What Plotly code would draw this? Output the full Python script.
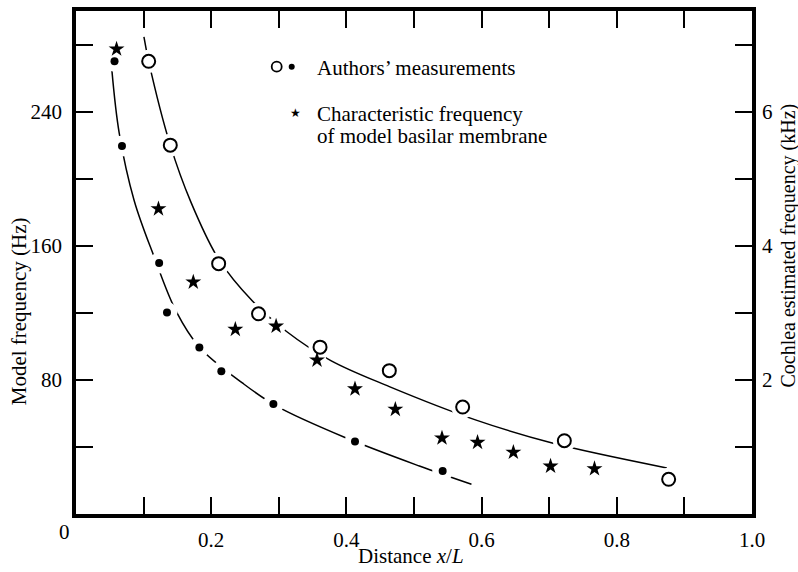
import plotly.graph_objects as go

# ---- data ----
open_x = [0.1075, 0.1395, 0.211, 0.270, 0.361, 0.4635, 0.572, 0.7224, 0.8767]
open_y = [270, 220, 149.3, 119.4, 99.5, 85.5, 63.8, 43.7, 20.7]

dot_x = [0.057, 0.068, 0.123, 0.1346, 0.1825, 0.215, 0.292, 0.4127, 0.5424]
dot_y = [270, 219.5, 149.7, 120.2, 99.3, 85.1, 65.6, 43.3, 25.6]

star_x = [0.060, 0.122, 0.1735, 0.2357, 0.296, 0.3565, 0.4127, 0.4724, 0.5414, 0.594, 0.647, 0.702, 0.767]
star_y = [277.3, 182, 138.3, 110.1, 112, 91.8, 74.6, 62.4, 45.3, 42.7, 36.8, 28.5, 27]

upper_x = [0.1005, 0.1075, 0.1395, 0.170, 0.211, 0.261, 0.311, 0.377, 0.4635, 0.592, 0.703, 0.874]
upper_y = [284.5, 270, 220, 186, 152, 127, 109, 91.5, 76, 56, 42.5, 27.5]

lower_x = [0.053, 0.064, 0.086, 0.115, 0.148, 0.1825, 0.2466, 0.296, 0.40, 0.508, 0.585]
lower_y = [265, 227, 187, 154, 121, 99.5, 78, 64.5, 45.3, 28.6, 17.7]

x_tickvals = [0.2, 0.4, 0.6, 0.8, 1.0]
x_ticktext = ["0.2", "0.4", "0.6", "0.8", "1.0"]
x_minor = [0.1, 0.3, 0.5, 0.7, 0.9]
y_tickvals = [80, 160, 240]
y_minor = [40, 120, 200, 280]
y2_tickvals = [2, 4, 6]
y2_minor = [1, 3, 5, 7]

FONT = "Liberation Serif"
fs = 21

fig = go.Figure()

# curves
for cx, cy in [(upper_x, upper_y), (lower_x, lower_y)]:
    fig.add_trace(go.Scatter(x=cx, y=cy, mode="lines",
                             line=dict(color="black", width=1.5, shape="spline", smoothing=1.0),
                             hoverinfo="skip", showlegend=False))

# white halos (gaps in the curves around markers)
fig.add_trace(go.Scatter(x=open_x, y=open_y, mode="markers",
                         marker=dict(color="white", size=23), showlegend=False, hoverinfo="skip"))
fig.add_trace(go.Scatter(x=dot_x, y=dot_y, mode="markers",
                         marker=dict(color="white", size=21), showlegend=False, hoverinfo="skip"))
fig.add_trace(go.Scatter(x=star_x, y=star_y, mode="markers",
                         marker=dict(color="white", size=19), showlegend=False, hoverinfo="skip"))

# markers
fig.add_trace(go.Scatter(x=open_x, y=open_y, mode="markers",
                         marker=dict(symbol="circle", color="white", size=13,
                                     line=dict(color="black", width=2)), showlegend=False))
fig.add_trace(go.Scatter(x=dot_x, y=dot_y, mode="markers",
                         marker=dict(symbol="circle", color="black", size=8,
                                     line=dict(width=0)), showlegend=False))
fig.add_trace(go.Scatter(x=star_x, y=star_y, mode="markers",
                         marker=dict(symbol="star", color="black", size=12,
                                     line=dict(width=0)), showlegend=False))

# invisible trace for right axis
fig.add_trace(go.Scatter(x=[None], y=[None], yaxis="y2", showlegend=False))

axis_common = dict(showline=True, linecolor="black", linewidth=3.5, ticks="inside",
                   ticklen=17, tickwidth=2, tickcolor="black", showgrid=False, zeroline=False,
                   tickfont=dict(family=FONT, size=fs, color="black"))

fig.update_layout(
    width=798, height=572,
    margin=dict(l=76, r=46, t=7, b=58),
    paper_bgcolor="white", plot_bgcolor="white",
    showlegend=False,
    xaxis=dict(range=[0, 1], tickmode="array", tickvals=x_tickvals, ticktext=x_ticktext,
               mirror="ticks", ticklabelstandoff=4,
               minor=dict(tickmode="array", tickvals=x_minor, ticks="inside", ticklen=17,
                          tickwidth=2, tickcolor="black"),
               **axis_common),
    yaxis=dict(range=[0, 300], tickmode="array", tickvals=y_tickvals,
               ticktext=[str(v) for v in y_tickvals], mirror=True, ticklabelstandoff=6,
               minor=dict(tickmode="array", tickvals=y_minor, ticks="inside", ticklen=17,
                          tickwidth=2, tickcolor="black"),
               **axis_common),
    yaxis2=dict(range=[0, 7.5], overlaying="y", side="right", tickmode="array",
                tickvals=y2_tickvals, ticktext=[str(v) for v in y2_tickvals],
                ticklabelstandoff=2,
                minor=dict(tickmode="array", tickvals=y2_minor, ticks="inside", ticklen=17,
                           tickwidth=2, tickcolor="black"),
                **axis_common),
)

tf = dict(family=FONT, size=fs, color="black")
ann = [
    dict(text="0", x=-0.0163, y=-0.0355, xref="paper", yref="paper", showarrow=False,
         xanchor="center", yanchor="middle", font=tf),
    dict(text="Model frequency (Hz)", x=-0.0851, y=0.404, xref="paper", yref="paper",
         showarrow=False, textangle=-90, xanchor="center", yanchor="middle", font=tf),
    dict(text="Cochlea estimated frequency (kHz)", x=1.0535, y=0.534, xref="paper", yref="paper",
         showarrow=False, textangle=-90, xanchor="center", yanchor="middle",
         font=dict(family=FONT, size=20, color="black")),
    dict(text="Distance <i>x</i>/<i>L</i>", x=0.4956, y=-0.0828, xref="paper", yref="paper",
         showarrow=False, xanchor="center", yanchor="middle", font=tf),
    dict(text="Authors’ measurements", x=0.3536, y=0.887, xref="paper", yref="paper",
         showarrow=False, xanchor="left", yanchor="middle", font=tf),
    dict(text="Characteristic frequency", x=0.3536, y=0.796, xref="paper", yref="paper",
         showarrow=False, xanchor="left", yanchor="middle", font=tf),
    dict(text="of model basilar membrane", x=0.3536, y=0.7507, xref="paper", yref="paper",
         showarrow=False, xanchor="left", yanchor="middle", font=tf),
    dict(text="★", x=0.325, y=0.7975, xref="paper", yref="paper", showarrow=False,
         xanchor="center", yanchor="middle", font=dict(family="DejaVu Sans", size=12, color="black")),
]
fig.update_layout(annotations=ann)

fig.add_shape(type="circle", xref="paper", yref="paper", xsizemode="pixel", ysizemode="pixel",
              xanchor=0.2969, yanchor=0.8893, x0=-5, x1=5, y0=-5, y1=5,
              line=dict(color="black", width=1.8), fillcolor="white")
fig.add_shape(type="circle", xref="paper", yref="paper", xsizemode="pixel", ysizemode="pixel",
              xanchor=0.3191, yanchor=0.8893, x0=-3, x1=3, y0=-3, y1=3,
              line=dict(color="black", width=0), fillcolor="black")

fig.write_html("out.html")
